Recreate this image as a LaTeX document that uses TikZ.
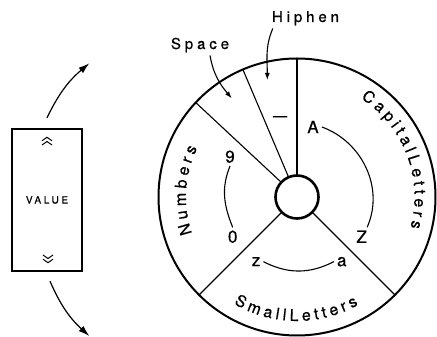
\documentclass[tikz,border=0pt]{standalone}
\usepackage{fontspec}
\usepackage{tikz}
\usetikzlibrary{arrows.meta,calc,decorations.text}
\newfontfamily\tagfont[LetterSpace=26,FakeBold=0.6]{TeX Gyre Heros}
\newfontfamily\charfont[FakeBold=0.6]{TeX Gyre Heros}

\begin{document}
\begin{tikzpicture}[x=1pt,y=1pt,
  tag/.style={font=\tagfont\fontsize{15}{15}\selectfont,inner sep=1pt},
  glyph/.style={font=\charfont\fontsize{17}{17}\selectfont,inner sep=3pt},
  dialchar/.style={font=\charfont\fontsize{16}{16}\selectfont},
  dialtext/.style={decorate,decoration={text effects along path,text={#1},text align=center,
    text effects/.cd,text along path,characters={dialchar},character widths={dialchar,inner xsep=1.9pt}}},
  pointer/.style={line width=1.1pt,-{Latex[length=7pt,width=5pt]}},
  swing/.style={line width=1.2pt,-{Latex[length=11pt,width=7pt]}}]
  \useasboundingbox (0,0) rectangle (437,337);
  \coordinate (c) at (297,140);
  \draw[line width=2pt] (c) circle[radius=138.5];
  \foreach \a in {90,113,137,225,315}{\draw[line width=1.1pt] ($(c)+(\a:21.5)$)--($(c)+(\a:138.5)$);}
  \draw[line width=2.6pt,fill=white] (c) circle[radius=21.5];
  \path[dialtext=CapitalLetters] ($(c)+(71:117.5)$) arc[start angle=71,end angle=-29,radius=117.5];
  \path[dialtext=SmallLetters] ($(c)+(214.5:124)$) arc[start angle=214.5,end angle=324.5,radius=124];
  \path[dialtext=Numbers] ($(c)+(221.5:111)$) arc[start angle=221.5,end angle=131.5,radius=111];
  \node[tag,anchor=base] (hiphen) at (305.5,315) {Hiphen};
  \node[tag,anchor=base] (space) at (200,288) {Space};
  \coordinate (hiphentip) at (267.3,257);
  \coordinate (spacetip) at (231.7,238.7);
  \draw[pointer] ([xshift=2pt,yshift=-2pt]hiphen.south west) to[out=-113,in=90] (hiphentip);
  \draw[pointer] ([xshift=10pt,yshift=-2pt]space.south) to[out=-80,in=130] (spacetip);
  \node[glyph,font=\charfont\fontsize{14}{14}\selectfont] (dash) at (280,218.6) {—};
  \node[glyph] (A) at (313,210) {A};
  \node[glyph] (Z) at (361.7,100.3) {Z};
  \node[glyph] (nine) at (230,180.3) {9};
  \node[glyph] (zero) at (232.7,100.3) {0};
  \node[glyph] (z) at (256,75.3) {z};
  \node[glyph] (a) at (341.7,75.3) {a};
  \draw[line width=1.1pt] (A.east) to[out=-20,in=66] (Z.60);
  \draw[line width=1.1pt] (nine.south) to[out=-112,in=112] (zero.north);
  \draw[line width=1.1pt] (z.east) to[out=-27,in=-153] (a.west);
  \node[draw,line width=2.4pt,minimum width=70pt,minimum height=142pt,font=\tagfont\fontsize{10}{10}\selectfont] (valuebox) at (47,137) {VALUE};
  \foreach \dy in {9.5,13.7}{
    \draw[line width=1pt] ($(valuebox.north)+(-5,-\dy-3.5)$) -- ++(5,3.5) -- ++(5,-3.5);
    \draw[line width=1pt] ($(valuebox.south)+(-4,\dy+3.5)$) -- ++(5,-3.5) -- ++(5,3.5);}
  \coordinate (uptip) at (89.3,273.7);
  \coordinate (downtip) at (89.3,1);
  \draw[swing] ([yshift=10pt]valuebox.north) to[bend left=12] (uptip);
  \draw[swing] ([xshift=3pt,yshift=-9pt]valuebox.south) to[bend right=12] (downtip);
\end{tikzpicture}
\end{document}
